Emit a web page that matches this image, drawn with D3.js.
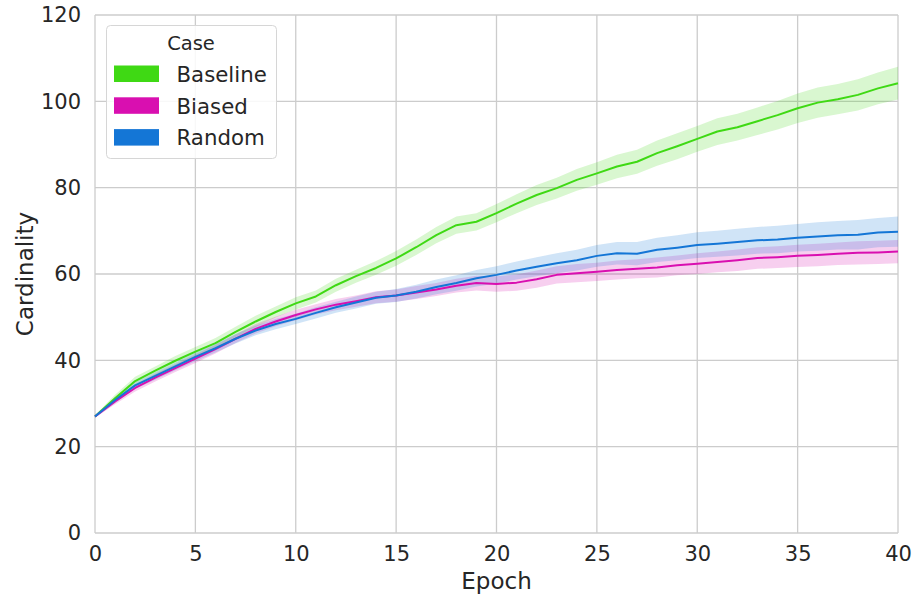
<!DOCTYPE html>
<html>
<head>
<meta charset="utf-8">
<script src="https://cdn.jsdelivr.net/npm/d3@7"></script>
<style>
body { margin: 0; background: #fff; }
text { font-family: "DejaVu Sans", sans-serif; fill: #262626; }
</style>
</head>
<body>
<svg id="chart" width="915" height="596"></svg>
<script>
const epochs = d3.range(0, 41);
const seriesNames = ["Baseline", "Biased", "Random"];
const seriesColors = ["#3fd914", "#d90fb0", "#1476d6"];
const baselineMean = [27, 31.2, 35.2, 37.6, 39.9, 42.0, 44.0, 46.6, 49.0, 51.2, 53.2, 54.8, 57.4, 59.5, 61.4, 63.6, 66.2, 69.0, 71.3, 72.1, 74.1, 76.3, 78.3, 79.9, 81.8, 83.3, 84.9, 86.0, 88.0, 89.6, 91.3, 93.0, 94.0, 95.4, 96.8, 98.4, 99.7, 100.5, 101.5, 103.0, 104.2];
const baselineCi = [0.3, 0.8, 1.0, 1.0, 1.1, 1.1, 1.2, 1.2, 1.3, 1.3, 1.4, 1.4, 1.5, 1.5, 1.6, 1.7, 1.8, 1.9, 2.0, 2.0, 2.1, 2.2, 2.3, 2.4, 2.5, 2.6, 2.7, 2.8, 2.9, 3.0, 3.0, 3.1, 3.1, 3.2, 3.3, 3.4, 3.5, 3.5, 3.6, 3.7, 3.8];
const biasedMean = [27, 30.5, 33.6, 36.0, 38.2, 40.4, 42.6, 45.0, 47.3, 49.0, 50.5, 51.8, 52.9, 53.7, 54.6, 55.0, 55.7, 56.4, 57.3, 57.9, 57.7, 58.0, 58.8, 59.8, 60.2, 60.5, 60.9, 61.2, 61.5, 62.0, 62.4, 62.8, 63.2, 63.7, 63.9, 64.2, 64.4, 64.7, 64.9, 65.0, 65.2];
const biasedCi = [0.3, 0.7, 0.8, 0.9, 0.9, 1.0, 1.0, 1.0, 1.1, 1.1, 1.2, 1.2, 1.3, 1.3, 1.4, 1.4, 1.5, 1.5, 1.6, 1.7, 1.8, 1.9, 2.0, 2.0, 2.1, 2.1, 2.2, 2.2, 2.3, 2.3, 2.4, 2.4, 2.5, 2.5, 2.5, 2.6, 2.6, 2.6, 2.7, 2.7, 2.7];
const randomMean = [27, 30.8, 34.2, 36.4, 38.6, 40.8, 42.8, 45.0, 46.9, 48.4, 49.6, 51.0, 52.3, 53.4, 54.5, 55.0, 55.9, 57.0, 57.9, 59.0, 59.8, 60.8, 61.7, 62.5, 63.2, 64.2, 64.8, 64.7, 65.6, 66.1, 66.7, 67.0, 67.4, 67.8, 68.0, 68.4, 68.7, 69.0, 69.1, 69.6, 69.8];
const randomCi = [0.3, 0.7, 0.8, 0.9, 0.9, 1.0, 1.0, 1.1, 1.1, 1.2, 1.2, 1.3, 1.3, 1.4, 1.4, 1.5, 1.6, 1.7, 1.8, 1.9, 2.0, 2.1, 2.2, 2.3, 2.4, 2.5, 2.6, 2.7, 2.8, 2.9, 3.0, 3.0, 3.1, 3.1, 3.2, 3.2, 3.3, 3.3, 3.4, 3.4, 3.5];
const xTicks = [0, 5, 10, 15, 20, 25, 30, 35, 40];
const yTicks = [0, 20, 40, 60, 80, 100, 120];

const means = [baselineMean, biasedMean, randomMean];
const cis = [baselineCi, biasedCi, randomCi];

const svg = d3.select("#chart");
const m = { left: 95, right: 17, top: 15, bottom: 63 };
const W = 915, H = 596;
const x = d3.scaleLinear().domain([0, 40]).range([m.left, W - m.right]);
const y = d3.scaleLinear().domain([0, 120]).range([H - m.bottom, m.top]);

// grid
const g = svg.append("g");
g.selectAll(".vg").data(xTicks).enter().append("line")
  .attr("x1", d => x(d)).attr("x2", d => x(d))
  .attr("y1", y(0)).attr("y2", y(120))
  .attr("stroke", "#cccccc").attr("stroke-width", 1.3);
g.selectAll(".hg").data(yTicks).enter().append("line")
  .attr("x1", x(0)).attr("x2", x(40))
  .attr("y1", d => y(d)).attr("y2", d => y(d))
  .attr("stroke", "#cccccc").attr("stroke-width", 1.3);

// bands
const area = (mean, ci) => d3.area()
  .x((d, i) => x(epochs[i]))
  .y0((d, i) => y(mean[i] - ci[i]))
  .y1((d, i) => y(mean[i] + ci[i]));
const line = (mean) => d3.line()
  .x((d, i) => x(epochs[i]))
  .y((d, i) => y(mean[i]));

means.forEach((mean, k) => {
  svg.append("path").datum(mean)
    .attr("d", area(mean, cis[k]))
    .attr("fill", seriesColors[k]).attr("fill-opacity", 0.2).attr("stroke", "none");
});
means.forEach((mean, k) => {
  svg.append("path").datum(mean)
    .attr("d", line(mean))
    .attr("fill", "none").attr("stroke", seriesColors[k]).attr("stroke-width", 2)
    .attr("stroke-linejoin", "round");
});

// axes
const xAxis = svg.append("g").attr("transform", `translate(0,${y(0)})`)
  .call(d3.axisBottom(x).tickValues(xTicks).tickSize(0).tickPadding(13));
xAxis.select(".domain").remove();
xAxis.selectAll("text").attr("font-size", 21).attr("font-family", "DejaVu Sans").attr("fill", "#262626");
const yAxis = svg.append("g").attr("transform", `translate(${x(0)},0)`)
  .call(d3.axisLeft(y).tickValues(yTicks).tickSize(0).tickPadding(14));
yAxis.select(".domain").remove();
yAxis.selectAll("text").attr("font-size", 21).attr("font-family", "DejaVu Sans").attr("fill", "#262626");

svg.append("text").attr("x", x(20)).attr("y", 589).attr("text-anchor", "middle")
  .attr("font-size", 23).text("Epoch");
svg.append("text").attr("transform", `translate(33,${y(60)}) rotate(-90)`)
  .attr("text-anchor", "middle").attr("font-size", 23).text("Cardinality");

// legend
const lg = svg.append("g");
lg.append("rect").attr("x", 106.5).attr("y", 25.5).attr("width", 170).attr("height", 133)
  .attr("rx", 4).attr("fill", "#fff").attr("fill-opacity", 0.85).attr("stroke", "#d6d6d6");
lg.append("text").attr("x", 191).attr("y", 50).attr("text-anchor", "middle").attr("font-size", 19.5).text("Case");
seriesNames.forEach((name, k) => {
  const yy = 65.5 + k * 31.8;
  lg.append("rect").attr("x", 114).attr("y", yy).attr("width", 45).attr("height", 16.5)
    .attr("fill", seriesColors[k]);
  lg.append("text").attr("x", 176.5).attr("y", yy + 16.3).attr("font-size", 21.3).text(name);
});
</script>
</body>
</html>
